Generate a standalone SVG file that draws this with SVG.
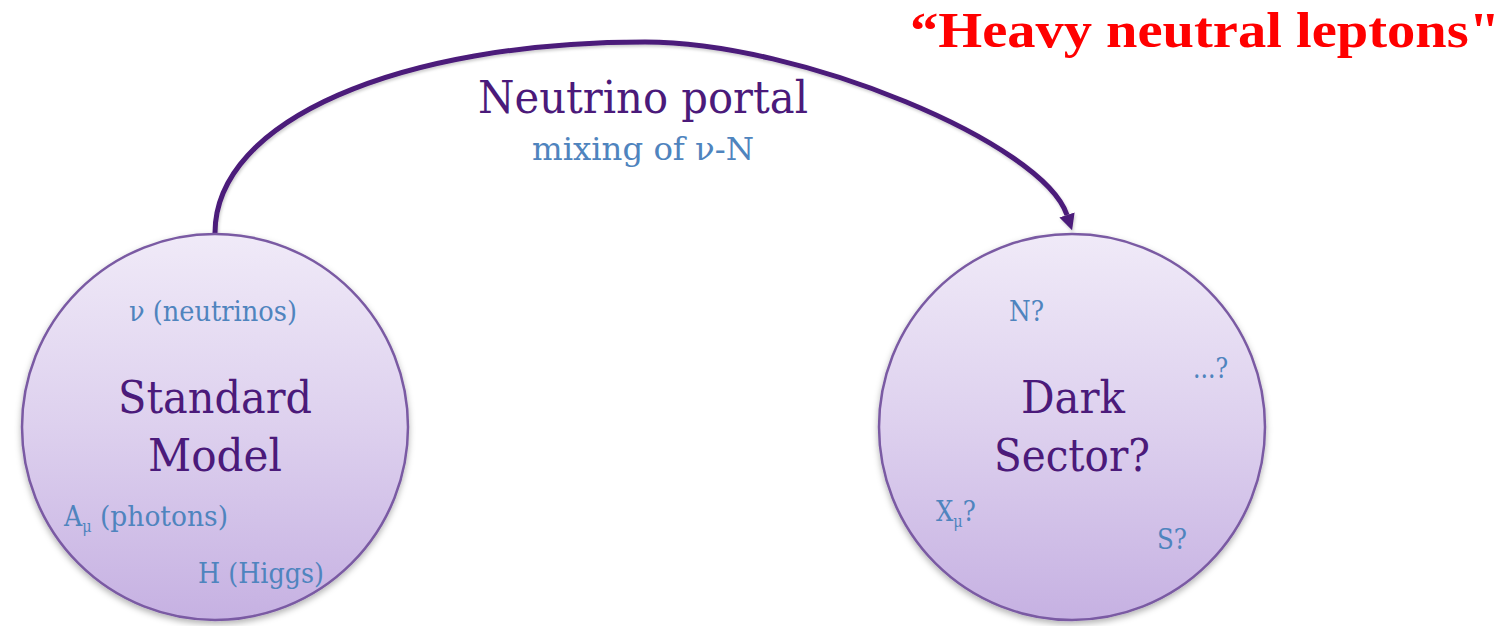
<svg xmlns="http://www.w3.org/2000/svg" width="1509" height="626" viewBox="0 0 1509 626">
  <defs>
    <linearGradient id="ballFill" x1="0" y1="0" x2="0" y2="1">
      <stop offset="0" stop-color="#F0EAF8"/>
      <stop offset="0.5" stop-color="#DDD0EE"/>
      <stop offset="1" stop-color="#C6B1E2"/>
    </linearGradient>
    <filter id="softShadow" x="-10%" y="-10%" width="120%" height="125%">
      <feDropShadow dx="0" dy="3" stdDeviation="3" flood-color="#000" flood-opacity="0.3"/>
    </filter>
    <filter id="lineShadow" x="-5%" y="-10%" width="110%" height="130%">
      <feDropShadow dx="1" dy="2" stdDeviation="1.5" flood-color="#000" flood-opacity="0.2"/>
    </filter>
    <marker id="arrowHead" markerWidth="20" markerHeight="20" viewBox="0 -10 20 20" refX="0" refY="0" orient="auto" markerUnits="userSpaceOnUse">
      <path d="M0,-8 L16,0 L0,8 Z" fill="#4B1A7A"/>
    </marker>
    <style>
      .ball { fill: url(#ballFill); stroke: #7A5AA3; stroke-width: 2.5; filter: url(#softShadow); }
      .big { font-family: "DejaVu Serif", "Liberation Serif", serif; fill: #4B1A7A; text-anchor: middle; }
      .small { font-family: "DejaVu Serif Condensed", "DejaVu Serif", "Liberation Serif", serif; fill: #4F84BE; }
      .link { fill: none; stroke: #4B1A7A; stroke-width: 5; filter: url(#lineShadow); }
    </style>
  </defs>

  <rect width="1509" height="626" fill="#FFFFFF"/>

  <!-- connector: neutrino portal -->
  <g id="connectors">
    <path class="link" d="M215,233 C215,120 400,42 645,42 C800,42 1043,143 1067,215" marker-end="url(#arrowHead)"/>
    <text class="big" x="643" y="113" font-size="44" textLength="330" lengthAdjust="spacingAndGlyphs">Neutrino portal</text>
    <text class="small" x="643" y="160" font-size="32" text-anchor="middle" textLength="222" lengthAdjust="spacingAndGlyphs">mixing of ν-N</text>
  </g>

  <!-- Standard Model -->
  <g id="standard-model">
    <circle class="ball" cx="215" cy="427" r="193"/>
    <text class="small" x="129" y="321" font-size="27" textLength="168" lengthAdjust="spacingAndGlyphs">ν (neutrinos)</text>
    <text class="big" x="215" y="413" font-size="45" textLength="194" lengthAdjust="spacingAndGlyphs">Standard</text>
    <text class="big" x="215" y="471" font-size="45" textLength="134" lengthAdjust="spacingAndGlyphs">Model</text>
    <text class="small" x="64" y="526" font-size="28">A<tspan font-size="16" dy="6">μ</tspan></text>
    <text class="small" x="100" y="526" font-size="27" textLength="128" lengthAdjust="spacingAndGlyphs">(photons)</text>
    <text class="small" x="198" y="583" font-size="27" textLength="126" lengthAdjust="spacingAndGlyphs">H (Higgs)</text>
  </g>

  <!-- Dark Sector -->
  <g id="dark-sector">
    <circle class="ball" cx="1072" cy="427" r="193"/>
    <text class="small" x="1009" y="321" font-size="27" textLength="35" lengthAdjust="spacingAndGlyphs">N?</text>
    <text class="small" x="1193" y="378" font-size="27" textLength="35" lengthAdjust="spacingAndGlyphs">...?</text>
    <text class="big" x="1073" y="413" font-size="45" textLength="104" lengthAdjust="spacingAndGlyphs">Dark</text>
    <text class="big" x="1072" y="471" font-size="45" textLength="156" lengthAdjust="spacingAndGlyphs">Sector?</text>
    <text class="small" x="936" y="521" font-size="27">X<tspan font-size="16" dy="6">μ</tspan><tspan dy="-6">?</tspan></text>
    <text class="small" x="1157" y="549" font-size="27" textLength="30" lengthAdjust="spacingAndGlyphs">S?</text>
  </g>

  <!-- heading -->
  <g id="heading">
    <text x="910" y="47" font-family="'Liberation Serif', 'Times New Roman', serif" font-weight="bold" font-size="50" fill="#FF0000" textLength="590" lengthAdjust="spacingAndGlyphs">“Heavy neutral leptons"</text>
  </g>
</svg>
